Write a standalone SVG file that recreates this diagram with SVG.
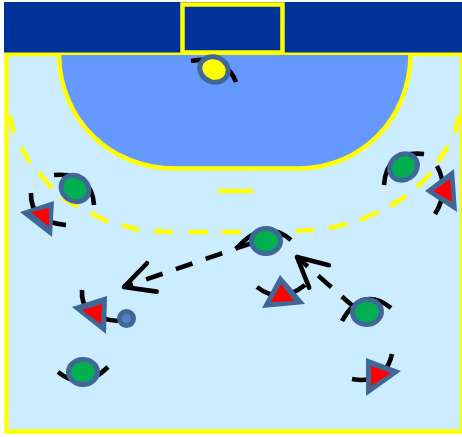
<svg xmlns="http://www.w3.org/2000/svg" width="462" height="437" viewBox="0 0 462 437">
  <style>
    .body { stroke: #3F6797; stroke-width: 5; }
    .green { fill: #00B050; }
    .outer { fill: #3F6797; }
    .inner { fill: #FF0000; }
    .arc { fill: none; stroke: #000000; stroke-width: 4.6; }
    .move { fill: none; stroke: #000000; stroke-width: 4.6; stroke-dasharray: 17.5 14; marker-end: url(#openArrow); }
  </style>
  <defs>
    <marker id="openArrow" markerUnits="userSpaceOnUse" markerWidth="40" markerHeight="40" refX="34" refY="20" orient="auto">
      <path d="M4.6 5 L34 20 L4.6 35" fill="none" stroke="#000000" stroke-width="4.6" stroke-linecap="round" stroke-linejoin="round"/>
    </marker>
  </defs>

  <rect width="462" height="437" fill="#FFFFFF"/>
  <g id="court">
    <rect x="6.500" y="54" width="455.500" height="377.500" fill="#CCECFF" stroke="#FFFF00" stroke-width="4.500"/>
    <rect x="4" y="2" width="458" height="50.500" fill="#003399"/>
    <rect x="182.500" y="4.500" width="100" height="48" fill="none" stroke="#FFFF00" stroke-width="4.500"/>
    <path d="M59 55 C60 120 110 168.500 175 168.500 L298 168.500 C362 168.500 410 118 410.500 55 Z" fill="#6699FF"/>
    <path d="M59 55 C60 120 110 168.500 175 168.500 L298 168.500 C362 168.500 410 118 410.500 55" fill="none" stroke="#FFFF00" stroke-width="4.500"/>
    <path d="M218 191 H253" stroke="#FFFF00" stroke-width="4.500" fill="none"/>
    <path d="M10 116 L14 133 M21 147 L30 163 M39 173 L52 188 M62 197 L78 207 M91 213 L108 222 M122 225 L139 230 M154 231 L173 232 M189 232 L208 232 M222 232 L241 232 M255 232 L274 232 M296 231 L314 230 M329 228 L347 224 M360 220 L378 212 M390 206 L406 196 M417 187 L431 173 M438 162 L448 146 M455 133 L459 116" stroke="#FFFF00" stroke-width="4.500" fill="none"/>
  </g>

  <g id="connectors">
    <path class="move" d="M252 243 L124 287"/>
    <path class="move" d="M355 308 L297 257"/>
  </g>

  <g id="goalkeeper">
    <path class="arc" d="M191 61 Q225 55 236 82"/>
    <ellipse class="body" cx="214" cy="69.500" rx="14.500" ry="12.500" transform="rotate(20 214 69.500)" fill="#FFFF00"/>
  </g>
  <g id="defender-1">
    <path class="arc" d="M54 175 Q92 172 94 205"/>
    <ellipse class="body green" cx="75" cy="188.500" rx="14.500" ry="12.500" transform="rotate(35 75 188.500)"/>
  </g>
  <g id="defender-2">
    <path class="arc" d="M424 154 Q386 150 384 185"/>
    <ellipse class="body green" cx="403.500" cy="167" rx="14.500" ry="12.500" transform="rotate(-35 403.500 167)"/>
  </g>
  <g id="defender-3">
    <path class="arc" d="M236 249 Q264 217 291 240"/>
    <ellipse class="body green" cx="266" cy="241" rx="14.500" ry="12.500"/>
  </g>
  <g id="defender-4">
    <path class="arc" d="M342 321 Q362 285 391 308"/>
    <ellipse class="body green" cx="367" cy="312" rx="14.500" ry="12.500" transform="rotate(-8 367 312)"/>
  </g>
  <g id="defender-5">
    <path class="arc" d="M58 372 Q83 392 108 367"/>
    <ellipse class="body green" cx="83" cy="372" rx="14.500" ry="12.500"/>
  </g>

  <g id="attacker-1">
    <path class="arc" d="M31 193 Q30 222 66 225"/>
    <polygon class="outer" points="20,212 54,201 52,237"/>
    <polygon class="inner" points="31,212 49,208 49,227"/>
  </g>
  <g id="attacker-2">
    <path class="arc" d="M437 166 Q450 190 435 214"/>
    <polygon class="outer" points="425,191 454,169 457,212"/>
    <polygon class="inner" points="433,191 450,179 452,202"/>
  </g>
  <g id="attacker-3">
    <path class="arc" d="M82 290 Q80 318 118 321"/>
    <polygon class="outer" points="72,307 107,296 106,334"/>
    <polygon class="inner" points="82,310 102,304 101,324"/>
  </g>
  <g id="attacker-4">
    <path class="arc" d="M257 287 Q280 305 305 285"/>
    <polygon class="outer" points="280,275 305,304 262,308"/>
    <polygon class="inner" points="281,284 294,301 271,302"/>
  </g>
  <g id="attacker-5">
    <path class="arc" d="M352 379 Q385 385 392 354"/>
    <polygon class="outer" points="366,358 401,371 366,396"/>
    <polygon class="inner" points="371,366 391,373 371,386"/>
  </g>

  <g id="ball">
    <circle cx="126.500" cy="318.500" r="9.500" fill="#3F6797"/>
    <circle cx="126.500" cy="318.500" r="4.500" fill="#4F81BD"/>
  </g>
</svg>
